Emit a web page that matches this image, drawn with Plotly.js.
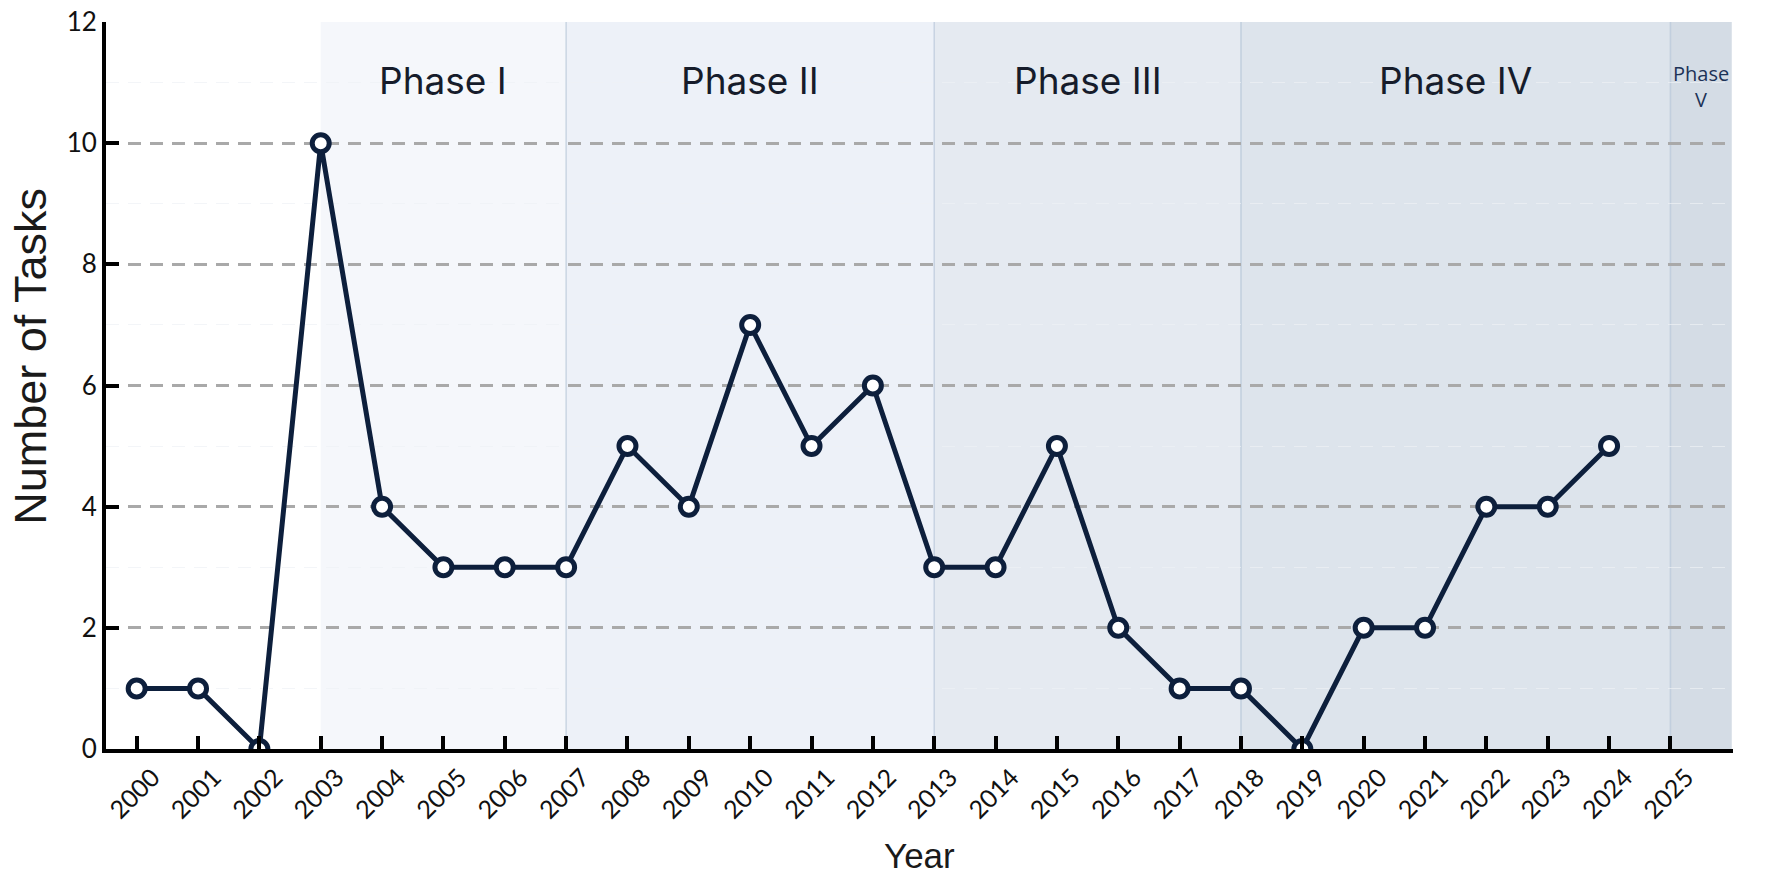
<!DOCTYPE html>
<html>
<head>
<meta charset="utf-8">
<script src="https://cdn.plot.ly/plotly-3.0.1.min.js"></script>
<style>
  html, body { margin: 0; padding: 0; background: #ffffff; }
  #chart { width: 1787px; height: 889px; }
</style>
</head>
<body>
<div id="chart"></div>
<script>
// Yearly task counts, 2000–2024
const years = [2000, 2001, 2002, 2003, 2004, 2005, 2006, 2007, 2008, 2009,
               2010, 2011, 2012, 2013, 2014, 2015, 2016, 2017, 2018, 2019,
               2020, 2021, 2022, 2023, 2024];
const taskCounts = [1, 1, 0, 10, 4, 3, 3, 3, 5, 4,
                    7, 5, 6, 3, 3, 5, 2, 1, 1, 0,
                    2, 2, 4, 4, 5];

// Axis ticks
const tickYears = [2000, 2001, 2002, 2003, 2004, 2005, 2006, 2007, 2008, 2009,
                   2010, 2011, 2012, 2013, 2014, 2015, 2016, 2017, 2018, 2019,
                   2020, 2021, 2022, 2023, 2024, 2025];
const yTicks = [0, 2, 4, 6, 8, 10, 12];

// Project phases
const phaseNames = ["Phase I", "Phase II", "Phase III", "Phase IV", "Phase<br>V"];
const phaseStart = [2003, 2007, 2013, 2018, 2025];
const phaseEnd   = [2007, 2013, 2018, 2025, 2026];
const phaseFill  = ["#f5f7fb", "#edf1f8", "#e5eaf1", "#dde4ec", "#d4dce5"];

const NAVY = "#0d1f3c";
const X_RANGE = [1999.5, 2026.02];
const Y_RANGE = [0, 12];

const shapes = [];
const annotations = [];

phaseNames.forEach((name, i) => {
  shapes.push({
    type: "rect", layer: "below",
    xref: "x", yref: "y",
    x0: phaseStart[i], x1: phaseEnd[i], y0: Y_RANGE[0], y1: Y_RANGE[1],
    fillcolor: phaseFill[i], line: { width: 0 }
  });
  const small = name.indexOf("<br>") >= 0;
  annotations.push({
    xref: "x", yref: "y",
    x: (phaseStart[i] + phaseEnd[i]) / 2,
    y: small ? 10.93 : 11.03,
    text: name, showarrow: false,
    xanchor: "center", yanchor: "middle",
    font: small
      ? { family: "Open Sans, Noto Sans, sans-serif", size: 20, color: "#1c3357" }
      : { family: "Inter, Lato, sans-serif", size: 37, color: "#161c2b" }
  });
});

// Thin boundary lines between successive phases
phaseStart.slice(1).forEach(x => {
  shapes.push({
    type: "line", layer: "below",
    xref: "x", yref: "y",
    x0: x, x1: x, y0: Y_RANGE[0], y1: Y_RANGE[1],
    line: { color: "rgba(170,188,210,0.55)", width: 1.5 }
  });
});

// Axis titles
annotations.push({
  xref: "paper", yref: "paper",
  x: 0.5, y: -0.147, yanchor: "middle", xanchor: "center",
  text: "Year", showarrow: false,
  font: { family: "Liberation Sans, Arial, sans-serif", size: 35, color: "#1a1a1a" }
});
annotations.push({
  xref: "paper", yref: "paper",
  x: -0.0465, y: 0.54, xanchor: "center", yanchor: "middle",
  textangle: -90,
  text: "Number of Tasks", showarrow: false,
  font: { family: "Liberation Sans, Arial, sans-serif", size: 45, color: "#1a1a1a" }
});

const trace = {
  type: "scatter", mode: "lines+markers",
  x: years, y: taskCounts,
  line: { color: NAVY, width: 5 },
  marker: { symbol: "circle", size: 17, color: "#ffffff",
            line: { color: NAVY, width: 5 } },
  cliponaxis: true,
  hoverinfo: "x+y"
};

const layout = {
  width: 1787, height: 889,
  margin: { l: 106, r: 54, t: 22, b: 140 },
  paper_bgcolor: "#ffffff",
  plot_bgcolor: "#ffffff",
  showlegend: false,
  xaxis: {
    range: X_RANGE,
    tickvals: tickYears,
    ticktext: tickYears.map(String),
    tickangle: -45,
    ticklabelshift: 16,
    ticks: "inside", ticklen: 13, tickwidth: 4, tickcolor: "#000000",
    showline: true, linecolor: "#000000", linewidth: 4,
    showgrid: false, zeroline: false,
    tickfont: { family: "Lato, Inter, sans-serif", size: 25, color: "#111111" }
  },
  yaxis: {
    range: Y_RANGE,
    tickvals: yTicks,
    ticks: "inside", ticklen: 13, tickwidth: 4, tickcolor: "#000000",
    showline: true, linecolor: "#000000", linewidth: 4,
    showgrid: true, gridcolor: "#a9a9a9", gridwidth: 2.5, griddash: "13px,9px",
    zeroline: false,
    minor: { dtick: 1, showgrid: true, gridcolor: "rgba(238,241,245,0.7)", gridwidth: 1 },
    tickfont: { family: "Lato, Inter, sans-serif", size: 26, color: "#111111" }
  },
  shapes: shapes,
  annotations: annotations
};

Plotly.newPlot("chart", [trace], layout, { displayModeBar: false });
</script>
</body>
</html>
